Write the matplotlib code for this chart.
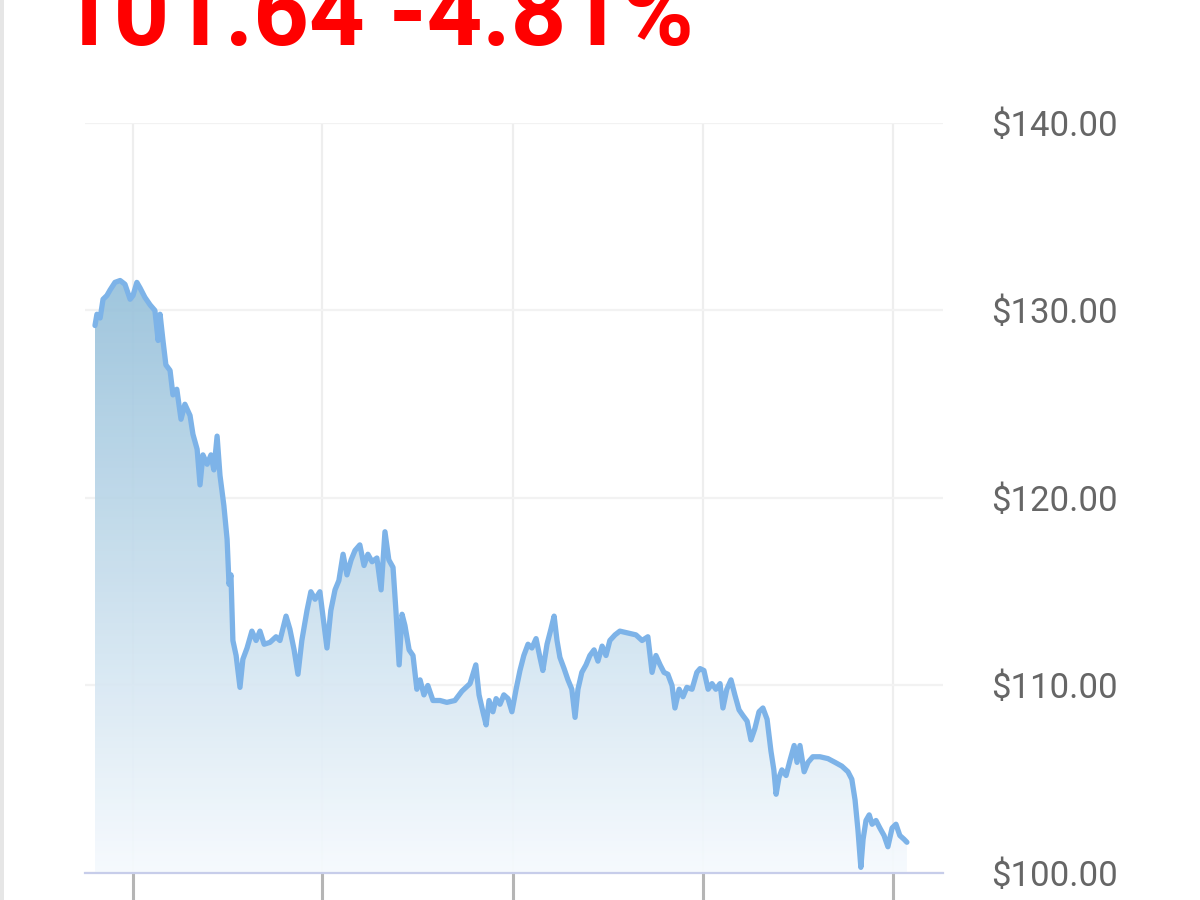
import numpy as np
import matplotlib.pyplot as plt
from matplotlib.colors import LinearSegmentedColormap
from matplotlib.patches import Rectangle

# trading days since start and closing price
days = [
    0, 0.6, 1.6, 2.5, 3.7, 4.7, 6.2, 7.8, 9.3, 10.9, 11.8, 13.0, 14.0, 15.5,
    17.1, 18.6, 19.6, 20.2, 21.1, 22.0, 23.3, 24.2, 25.4, 26.7, 27.9, 29.5,
    30.4, 31.7, 32.6, 33.5, 34.8, 36.0, 36.9, 37.9, 38.8, 40.0, 41.0, 41.6,
    42.2, 42.8, 43.8, 45.0, 45.9, 47.2, 48.7, 50.0, 51.2, 52.5, 54.3, 56.2,
    57.4, 59.3, 60.5, 61.8, 63.0, 64.2, 65.8, 67.0, 68.3, 69.8, 71.1, 72.0,
    73.2, 74.5, 75.7, 77.0, 78.2, 79.5, 80.7, 82.2, 83.5, 84.7, 86.0, 87.5,
    88.8, 90.0, 91.2, 92.5, 93.4, 94.4, 95.3, 96.2, 97.5, 98.7, 99.9, 100.9,
    102.1, 103.3, 104.9, 107.1, 109.2, 111.7, 113.9, 116.4, 118.2, 119.2,
    120.4, 121.4, 122.3, 123.5, 124.5, 125.7, 126.9, 128.2, 129.4, 130.7,
    131.9, 133.1, 134.4, 135.6, 136.9, 138.1, 139.0, 140.3, 141.5, 142.5,
    143.4, 144.3, 145.6, 146.8, 148.0, 149.0, 149.9, 151.1, 152.4, 153.6,
    154.9, 156.1, 157.4, 158.6, 159.8, 161.4, 162.9, 165.4, 167.9, 169.8,
    171.6, 172.9, 174.1, 175.4, 176.6, 177.8, 179.1, 180.0, 181.3, 182.5,
    183.7, 185.3, 186.8, 187.8, 189.0, 190.3, 191.5, 192.7, 194.0, 194.9,
    196.1, 197.4, 198.6, 199.9, 201.1, 202.4, 203.6, 204.8, 206.1, 207.3,
    208.6, 209.8, 210.7, 211.4, 212.3, 213.2, 214.5, 215.7, 217.0, 217.9,
    218.8, 220.1, 221.3, 222.8, 225.0, 227.5, 229.7, 231.8, 233.7, 234.9,
    235.9, 236.8, 237.7, 238.4, 239.3, 240.3, 241.2, 242.4, 243.6, 244.9,
    246.1, 247.4, 248.6, 249.8, 251.1, 252.0,
]
prices = [
    129.2, 129.8, 129.6, 130.6, 130.8, 131.1, 131.5, 131.6, 131.4, 130.6, 130.8,
    131.5, 131.2, 130.7, 130.3, 130.0, 128.4, 129.8, 128.4, 127.1, 126.8, 125.5,
    125.8, 124.2, 125.0, 124.4, 123.4, 122.6, 120.7, 122.3, 121.8, 122.3, 121.5,
    123.3, 121.2, 119.6, 117.8, 115.4, 115.9, 112.4, 111.6, 109.9, 111.4, 112.0,
    112.9, 112.4, 112.9, 112.2, 112.3, 112.6, 112.4, 113.7, 113.0, 111.9, 110.6,
    112.4, 114.0, 115.0, 114.6, 115.0, 113.2, 112.0, 114.0, 115.1, 115.6, 117.0,
    115.9, 116.7, 117.2, 117.5, 116.4, 117.0, 116.6, 116.8, 115.1, 118.2, 116.7,
    116.3, 114.0, 111.1, 113.8, 113.2, 111.9, 111.6, 109.8, 110.3, 109.5, 110.0,
    109.2, 109.2, 109.1, 109.2, 109.7, 110.1, 111.1, 109.5, 108.6, 107.9, 109.2,
    108.6, 109.3, 109.0, 109.5, 109.3, 108.6, 109.8, 110.8, 111.6, 112.2, 112.0,
    112.5, 111.5, 110.8, 112.2, 113.0, 113.7, 112.4, 111.5, 110.9, 110.3, 109.8,
    108.3, 109.8, 110.7, 111.1, 111.6, 111.9, 111.3, 112.1, 111.6, 112.4, 112.7,
    112.9, 112.8, 112.7, 112.4, 112.6, 110.7, 111.6, 111.1, 110.7, 110.6, 110.0,
    108.8, 109.8, 109.4, 109.9, 109.8, 110.7, 110.9, 110.8, 109.8, 110.1, 109.8,
    110.1, 108.8, 109.8, 110.3, 109.5, 108.7, 108.4, 108.1, 107.1, 107.7, 108.6,
    108.8, 108.2, 106.5, 105.5, 104.2, 105.1, 105.5, 105.2, 106.0, 106.8, 105.9,
    106.8, 105.4, 105.9, 106.2, 106.2, 106.1, 105.9, 105.7, 105.4, 105.0, 103.9,
    102.3, 100.3, 101.8, 102.8, 103.1, 102.6, 102.8, 102.4, 102.0, 101.4, 102.4,
    102.6, 102.0, 101.8, 101.64,
]
quarter_days = [11.8, 70.4, 129.7, 188.7, 247.7]
price_ticks = [100, 110, 120, 130, 140]
headline = "101.64 -4.81%"

fig = plt.figure(figsize=(12, 9), dpi=100)
fig.add_artist(Rectangle((0, 0), 4 / 1200, 1, transform=fig.transFigure,
                         facecolor="#e6e6e6", edgecolor="none"))
ax = fig.add_axes([85 / 1200, 27 / 900, 858 / 1200, 750 / 900])

# gradient area under the line
poly = ax.fill_between(days, prices, 100, facecolor="none", edgecolor="none")
grad = LinearSegmentedColormap.from_list("area", ["#f6fafe", "#97c1db"])
im = ax.imshow(np.linspace(0, 1, 256).reshape(-1, 1), cmap=grad, aspect="auto",
               origin="lower", extent=[days[0], days[-1], 100, max(prices)],
               alpha=0.92, zorder=1)
im.set_clip_path(poly.get_paths()[0], transform=ax.transData)

ax.plot(days, prices, color="#7db3e8", lw=3.8, solid_joinstyle="round",
        solid_capstyle="round", zorder=3)

ax.set_xlim(-3.1, 263.2)
ax.set_ylim(100, 140)
ax.set_xticks(quarter_days)
ax.set_yticks(price_ticks)
ax.set_yticklabels([f"${v:.2f}" for v in price_ticks])
ax.yaxis.tick_right()

ax.set_axisbelow(True)
ax.grid(True, axis="y", color="#f2f2f2", lw=1.6)
ax.grid(True, axis="x", color="#eeeeee", lw=1.6)

for side in ["top", "left", "right"]:
    ax.spines[side].set_visible(False)
ax.spines["bottom"].set_color("#c7cdea")
ax.spines["bottom"].set_linewidth(1.6)

ax.tick_params(axis="x", length=20, width=2.2, color="#b5b5b5",
               labelbottom=False, direction="out")
ax.tick_params(axis="y", length=0, pad=35, labelsize=25, labelcolor="#666666")
for lbl in ax.get_yticklabels():
    lbl.set_family("Roboto")

fig.text(58 / 1200, 1 - 45 / 900, headline, fontsize=70, fontweight="bold",
         color="#ff0000", family="Roboto", ha="left", va="baseline")

fig.savefig("out.png", dpi=100)
